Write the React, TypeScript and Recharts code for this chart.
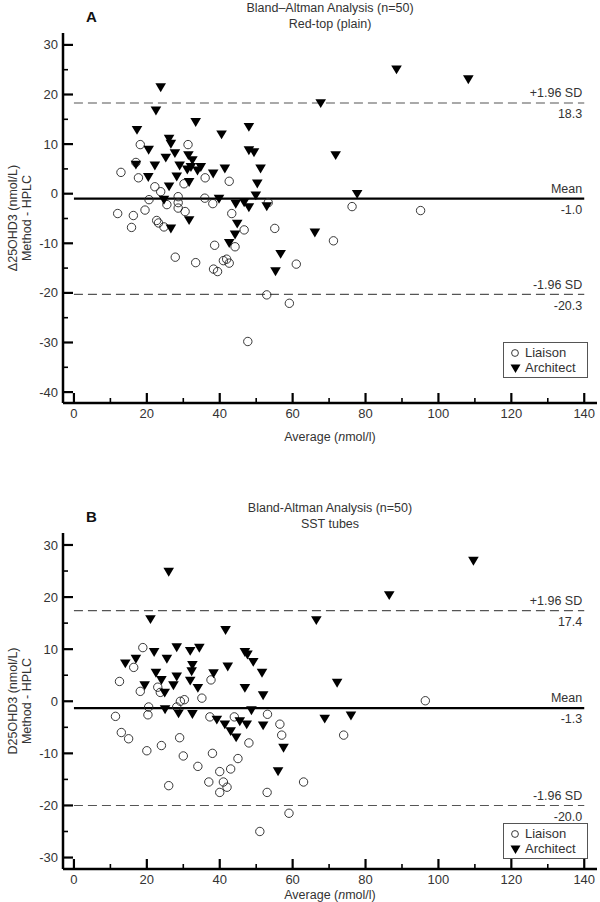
import React from 'react';
import { ScatterChart, Scatter, XAxis, YAxis, ReferenceLine, Legend } from 'recharts';

const FONT = '"Liberation Sans", Arial, Helvetica, sans-serif';
const TXT = '#333';

const xTicks = [0, 10, 20, 30, 40, 50, 60, 70, 80, 90, 100, 110, 120, 130, 140];
const yTicksA = [-40, -35, -30, -25, -20, -15, -10, -5, 0, 5, 10, 15, 20, 25, 30];
const yTicksB = [-30, -25, -20, -15, -10, -5, 0, 5, 10, 15, 20, 25, 30];

// Panel A: [average, difference]
const liaisonA: [number, number][] = [
  [18.2, 9.9], [31.3, 9.9], [17.0, 6.3], [12.9, 4.3], [17.7, 3.2], [22.2, 1.4], [23.8, 0.4], [30.2, 2.0],
  [28.6, -0.6], [20.6, -1.2], [25.5, -2.2], [28.6, -1.8], [28.6, -2.9], [30.5, -3.6], [12.0, -4.0], [16.3, -4.4],
  [19.5, -3.3], [15.8, -6.8], [22.7, -5.4], [23.2, -5.9], [24.7, -6.7], [27.8, -12.8], [33.4, -13.9], [36.0, 3.2],
  [42.6, 2.5], [35.9, -0.9], [38.1, -2.0], [53.3, -1.8], [76.3, -2.6], [43.3, -4.0], [46.7, -7.3], [55.1, -7.0],
  [71.2, -9.5], [38.6, -10.4], [44.2, -10.7], [41.0, -13.5], [41.9, -13.2], [42.6, -14.0], [38.3, -15.2], [39.4, -15.7],
  [61.0, -14.2], [52.9, -20.4], [59.1, -22.1], [95.1, -3.4], [47.7, -29.8],
];
const architectA: [number, number][] = [
  [23.8, 21.4], [22.5, 16.7], [33.4, 14.4], [17.3, 12.8], [26.1, 11.0], [26.6, 10.0], [20.5, 8.8], [27.7, 8.1],
  [31.4, 7.7], [25.2, 7.2], [32.5, 6.7], [17.0, 5.8], [22.2, 5.6], [29.0, 5.6], [32.1, 5.3], [31.1, 4.8],
  [33.9, 4.6], [28.2, 3.4], [20.4, 3.3], [31.6, 2.3], [26.1, 1.4], [24.7, -1.3], [31.6, -5.4], [26.6, -7.1],
  [67.7, 18.2], [48.0, 13.4], [40.5, 11.9], [48.0, 8.7], [49.4, 8.3], [71.8, 7.7], [34.8, 5.3], [51.2, 5.0],
  [41.4, 5.0], [38.2, 4.0], [50.3, 2.0], [49.9, -0.4], [77.7, -0.1], [39.8, -1.1], [44.4, -2.1], [46.7, -1.8],
  [48.0, -2.8], [52.9, -2.6], [44.8, -6.1], [66.1, -7.9], [44.2, -8.3], [42.6, -10.0], [56.7, -12.2], [55.3, -15.7],
  [88.5, 25.0], [108.2, 23.0],
];
const limitsA = [18.3, -1.0, -20.3];

// Panel B
const liaisonB: [number, number][] = [
  [18.9, 10.3], [16.4, 6.5], [12.5, 3.8], [18.2, 1.9], [23.0, 2.7], [23.7, 1.7], [29.2, 0.0], [30.3, 0.3],
  [20.5, -1.1], [28.2, -1.1], [11.4, -2.9], [20.3, -2.6], [37.6, 4.1], [35.1, 0.6], [53.1, -2.5], [37.3, -3.0],
  [44.0, -3.0], [56.5, -4.4], [96.4, 0.1], [13.0, -6.0], [15.0, -7.2], [20.0, -9.5], [24.0, -8.5], [26.0, -16.2],
  [29.0, -7.0], [30.0, -10.5], [34.0, -12.5], [37.0, -15.5], [38.0, -10.0], [40.0, -13.5], [40.0, -17.5], [41.0, -15.5],
  [42.0, -16.5], [43.0, -13.0], [45.0, -11.0], [48.0, -8.0], [53.0, -17.5], [51.0, -25.0], [59.0, -21.5], [57.0, -6.5],
  [63.0, -15.5], [74.0, -6.5],
];
const architectB: [number, number][] = [
  [21.0, 15.7], [28.2, 10.3], [22.0, 9.4], [25.5, 8.1], [17.0, 8.1], [14.1, 7.2], [22.5, 5.4], [28.2, 4.7],
  [24.0, 4.0], [19.4, 3.0], [27.3, 3.0], [24.9, 1.6], [25.0, -1.6], [28.7, -2.4], [34.4, 10.2], [31.9, 9.6],
  [32.5, 6.9], [32.3, 5.7], [31.9, 3.9], [34.0, 2.5], [32.5, -2.5], [66.5, 15.5], [41.6, 13.6], [46.9, 9.4],
  [47.6, 8.9], [49.2, 7.5], [42.2, 6.6], [51.6, 5.4], [38.3, 5.3], [72.2, 3.5], [46.9, 2.5], [51.9, 1.1],
  [48.7, -1.8], [39.2, -3.6], [41.4, -4.5], [45.5, -3.9], [47.4, -4.5], [51.9, -4.7], [68.8, -3.4], [76.0, -2.8],
  [86.5, 20.3], [109.6, 26.9], [26.0, 24.8], [57.5, -9.0], [56.0, -13.5], [44.5, -7.0], [43.0, -5.8],
];
const limitsB = [17.4, -1.3, -20.0];

const toPts = (arr: [number, number][]) => arr.map(([x, y]) => ({ x, y }));

const CircleShape = (p: any) => (
  <circle cx={p.cx} cy={p.cy} r={4.2} fill="none" stroke="#222" strokeWidth={0.9} />
);
const TriShape = (p: any) => (
  <path d={`M${p.cx - 5.3},${p.cy - 4.3}L${p.cx + 5.3},${p.cy - 4.3}L${p.cx},${p.cy + 4.6}Z`} fill="#000" />
);

const XTick = (p: any) => {
  const { x, y, payload } = p;
  const v = payload.value;
  const major = v % 20 === 0;
  return (
    <g>
      <line x1={x} x2={x} y1={y} y2={y - (major ? 10 : 5)} stroke="#000" strokeWidth={major ? 2.2 : 1.6} />
      {major && (
        <text x={x} y={y + 10} dy="0.35em" textAnchor="middle" fontFamily={FONT} fontSize={13} fill={TXT}>{v}</text>
      )}
    </g>
  );
};
const YTick = (p: any) => {
  const { x, y, payload } = p;
  const v = payload.value;
  const major = v % 10 === 0;
  return (
    <g>
      <line x1={x} x2={x + (major ? 10 : 5)} y1={y} y2={y} stroke="#000" strokeWidth={major ? 2.2 : 1.6} />
      {major && (
        <text x={x - 5} y={y} dy="0.35em" textAnchor="end" fontFamily={FONT} fontSize={13} fill={TXT}>{v}</text>
      )}
    </g>
  );
};

const limitLabel = (top: string, bottom: string) => (p: any) => {
  const vb = p.viewBox || {};
  const xr = (vb.x || 0) + (vb.width || 0) - 2;
  const y = vb.y || 0;
  return (
    <g>
      <text x={xr} y={y - 10} dy="0.35em" textAnchor="end" fontFamily={FONT} fontSize={12.5} fill={TXT}>{top}</text>
      <text x={xr} y={y + 11} dy="0.35em" textAnchor="end" fontFamily={FONT} fontSize={12.5} fill={TXT}>{bottom}</text>
    </g>
  );
};

const yLabel = (l1: string, l2: string) => (p: any) => {
  const vb = p.viewBox || {};
  const cy = (vb.y || 0) + (vb.height || 0) / 2;
  return (
    <g fontFamily={FONT} fontSize={12.5} fill={TXT}>
      <text transform={`translate(13,${cy}) rotate(-90)`} textAnchor="middle" dy="0.35em">{l1}</text>
      <text transform={`translate(27,${cy}) rotate(-90)`} textAnchor="middle" dy="0.35em">{l2}</text>
    </g>
  );
};

const xLabel = (off: number) => (p: any) => {
  const vb = p.viewBox || {};
  const cx = (vb.x || 0) + (vb.width || 0) / 2;
  const y = (vb.y || 0) + off;
  return (
    <text x={cx} y={y} dy="0.35em" textAnchor="middle" fontFamily={FONT} fontSize={12.5} fill={TXT}>
      Average (<tspan fontStyle="italic">n</tspan>mol/l)
    </text>
  );
};

const LegendBox = () => (
  <div style={{ border: '1px solid #555', width: 85, height: 36, boxSizing: 'border-box', fontFamily: FONT, fontSize: 13, color: TXT, padding: '2px 0 0 6px', lineHeight: '15px', background: '#fff' }}>
    <div style={{ display: 'flex', alignItems: 'center' }}>
      <svg width={12} height={12}><circle cx={5} cy={6} r={3.4} fill="none" stroke="#222" strokeWidth={0.9} /></svg>
      <span style={{ marginLeft: 3 }}>Liaison</span>
    </div>
    <div style={{ display: 'flex', alignItems: 'center' }}>
      <svg width={12} height={12}><path d="M0.5,2.5L10.5,2.5L5.5,11Z" fill="#000" /></svg>
      <span style={{ marginLeft: 3 }}>Architect</span>
    </div>
  </div>
);

type PanelProps = {
  top: number;
  height: number;
  marginTop: number;
  xAxisH: number;
  yDomain: [number, number];
  yTicks: number[];
  liaison: [number, number][];
  architect: [number, number][];
  limits: number[];
  yl1: string;
  legendTop: number;
  xLabelOff: number;
};

const Panel = (pp: PanelProps) => (
  <div style={{ position: 'absolute', left: 0, top: pp.top, width: 600, height: pp.height }}>
    <ScatterChart width={600} height={pp.height} margin={{ top: pp.marginTop, right: 3, bottom: 0, left: 0 }}>
      <XAxis
        type="number"
        dataKey="x"
        domain={[-3, 143.5]}
        ticks={xTicks}
        interval={0}
        height={pp.xAxisH}
        tickSize={0}
        tickMargin={0}
        tickLine={false}
        tick={XTick}
        axisLine={{ stroke: '#000', strokeWidth: 2.5 }}
        allowDataOverflow
        label={xLabel(pp.xLabelOff)}
      />
      <YAxis
        type="number"
        dataKey="y"
        domain={pp.yDomain}
        ticks={pp.yTicks}
        interval={0}
        width={63}
        tickSize={0}
        tickMargin={0}
        tickLine={false}
        tick={YTick}
        axisLine={{ stroke: '#000', strokeWidth: 2.5 }}
        allowDataOverflow
        label={yLabel(pp.yl1, 'Method - HPLC')}
      />
      <ReferenceLine segment={[{ x: 0, y: pp.limits[0] }, { x: 140, y: pp.limits[0] }]} stroke="#555" strokeWidth={1.1} strokeDasharray="9 5" label={limitLabel('+1.96 SD', pp.limits[0].toFixed(1))} />
      <ReferenceLine segment={[{ x: 0, y: pp.limits[1] }, { x: 140, y: pp.limits[1] }]} stroke="#000" strokeWidth={2.2} label={limitLabel('Mean', pp.limits[1].toFixed(1))} />
      <ReferenceLine segment={[{ x: 0, y: pp.limits[2] }, { x: 140, y: pp.limits[2] }]} stroke="#555" strokeWidth={1.1} strokeDasharray="9 5" label={limitLabel('-1.96 SD', pp.limits[2].toFixed(1))} />
      <Scatter name="Liaison" data={toPts(pp.liaison)} shape={CircleShape} isAnimationActive={false} />
      <Scatter name="Architect" data={toPts(pp.architect)} shape={TriShape} isAnimationActive={false} />
      <Legend layout="vertical" align="center" verticalAlign="middle" content={LegendBox} wrapperStyle={{ left: 503, top: pp.legendTop, width: 85, height: 36 }} />
    </ScatterChart>
  </div>
);

const Title = ({ top, l1, l2, letter }: { top: number; l1: string; l2: string; letter: string }) => (
  <>
    <div style={{ position: 'absolute', left: 130, width: 400, top: top, textAlign: 'center', fontFamily: FONT, fontSize: 12.5, color: TXT, lineHeight: '16px' }}>
      <div>{l1}</div>
      <div>{l2}</div>
    </div>
    <div style={{ position: 'absolute', left: 86, top: top + 8, fontFamily: FONT, fontSize: 15, fontWeight: 'bold', color: '#111', lineHeight: '18px' }}>{letter}</div>
  </>
);

export default function App() {
  return (
    <div style={{ position: 'absolute', left: 0, top: 0, width: 600, height: 902, background: '#fff', overflow: 'hidden' }}>
      <Panel top={0} height={448} marginTop={33} xAxisH={45} yDomain={[-42.2, 32.4]} yTicks={yTicksA}
        liaison={liaisonA} architect={architectA} limits={limitsA} yl1="Δ25OHD3 (nmol/L)" legendTop={342} xLabelOff={34} />
      <Panel top={460} height={442} marginTop={73} xAxisH={33} yDomain={[-32.2, 32.3]} yTicks={yTicksB}
        liaison={liaisonB} architect={architectB} limits={limitsB} yl1="D25OHD3 (nmol/L)" legendTop={363} xLabelOff={26} />
      <Title top={0} l1="Bland–Altman Analysis (n=50)" l2="Red-top (plain)" letter="A" />
      <Title top={500} l1="Bland-Altman Analysis (n=50)" l2="SST tubes" letter="B" />
    </div>
  );
}
